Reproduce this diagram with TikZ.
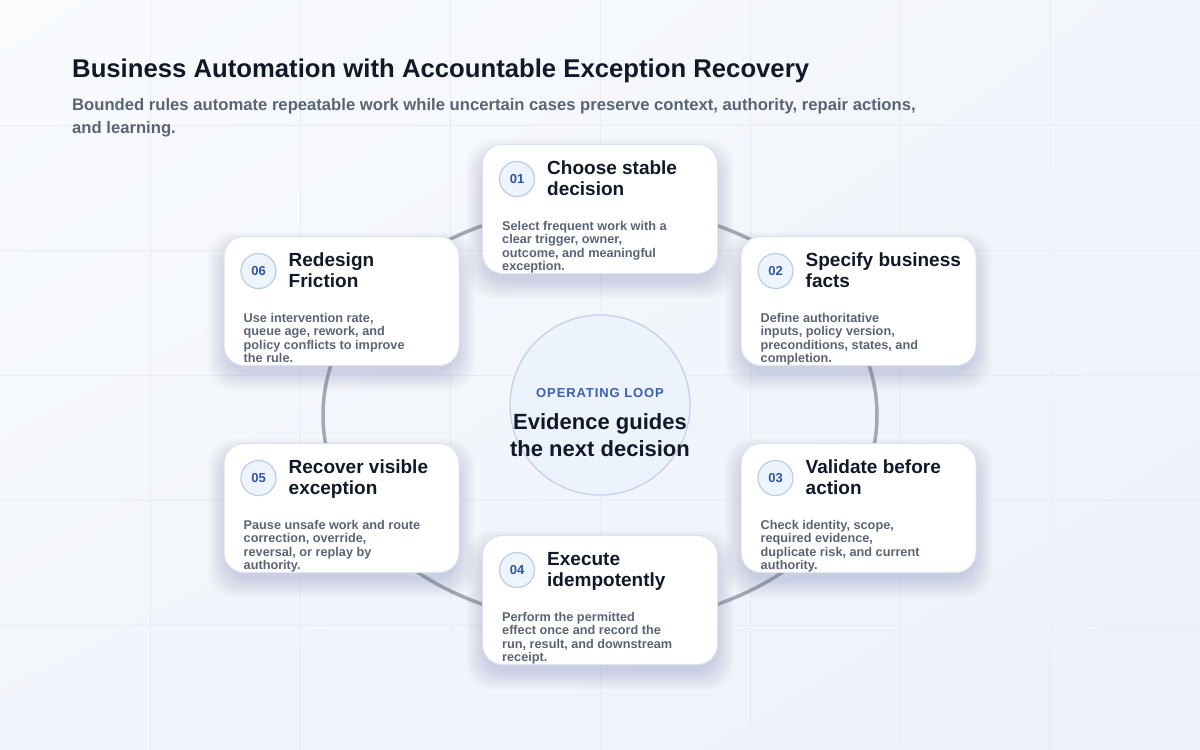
\documentclass[tikz,border=0pt]{standalone}
\usepackage{fontspec}
\setmainfont{Liberation Sans}
\usetikzlibrary{calc,shadings}
\definecolor{bgA}{HTML}{F9FBFD}
\definecolor{bgB}{HTML}{F2F5FB}
\definecolor{bgC}{HTML}{ECF1FA}
\definecolor{gridc}{HTML}{E8ECF4}
\definecolor{ringc}{HTML}{A2A8B5}
\definecolor{cardedge}{HTML}{DCE3EE}
\definecolor{titlec}{HTML}{111827}
\definecolor{bodyc}{HTML}{5B6475}
\definecolor{badgefill}{HTML}{EEF4FE}
\definecolor{badgeedge}{HTML}{BACCEB}
\definecolor{badgetext}{HTML}{2F55A3}
\definecolor{centerfill}{HTML}{EDF3FD}
\definecolor{centeredge}{HTML}{C2D2EE}
\definecolor{loopblue}{HTML}{3D5FAD}
\definecolor{shadowc}{HTML}{3A4C72}
\tikzset{
  card/.style={draw=cardedge, line width=1pt, fill=white, rounded corners=20pt,
    minimum width=235pt, minimum height=129pt, inner sep=0pt},
  shadowlayer/.style={fill=shadowc, opacity=0.009, rounded corners=26pt},
  badge/.style={circle, draw=badgeedge, line width=1.2pt, fill=badgefill, minimum size=35pt, inner sep=0pt,
    text=badgetext, font=\fontsize{13pt}{13pt}\selectfont\bfseries},
  ctitle/.style={anchor=base west, inner sep=0pt, text=titlec, font=\fontsize{19pt}{21pt}\selectfont\bfseries},
  cbody/.style={anchor=base west, inner sep=0pt, text=bodyc, font=\fontsize{12.7pt}{13.4pt}\selectfont\bfseries},
  gridline/.style={draw=gridc, line width=0.8pt},
  ringline/.style={draw=ringc, line width=3.5pt},
  hub/.style={circle, draw=centeredge, line width=1.3pt, fill=centerfill, minimum size=180pt, inner sep=0pt},
}
\newcommand\mkcard[6]{%
  \coordinate (#1c) at (#2);
  \foreach \k in {0,1,...,18}
    \fill[shadowlayer] ([shift={({-116-\k},{-62-\k+10})}]#1c) rectangle ([shift={({116+\k},{62+\k+10})}]#1c);
  \node[card] (#1) at (#1c) {};
  \node[badge] (#1n) at ([shift={(35,35)}]#1.north west) {#3};
  \node[ctitle] (#1ta) at ([shift={(65,30.5)}]#1.north west) {#4};
  \node[ctitle] (#1tb) at ([shift={(65,51.5)}]#1.north west) {#5};
  \begin{scope}
    \clip[rounded corners=20pt] ([shift={(0.5,0.5)}]#1.north west) rectangle ([shift={(-0.5,-0.5)}]#1.south east);
    \foreach \ln [count=\i] in {#6}
      \node[cbody] (#1b\i) at ([shift={(20,{86+13.6*(\i-1)})}]#1.north west) {\ln};
  \end{scope}}
\begin{document}
\begin{tikzpicture}[x=1pt,y=-1pt]
\useasboundingbox (0,0) rectangle (1200,750);
\shade[upper left=bgA, upper right=bgB, lower left=bgB, lower right=bgC] (0,0) rectangle (1200,750);
\foreach \gx in {150,300,...,1050} \draw[gridline] (\gx,0) -- (\gx,750);
\foreach \gy in {125,250,...,625} \draw[gridline] (0,\gy) -- (1200,\gy);

\node[anchor=base west, inner sep=0pt, text=titlec, font=\fontsize{25.7pt}{30pt}\selectfont\bfseries] (title) at (72,77)
  {Business Automation with Accountable Exception Recovery};
\node[anchor=base west, inner sep=0pt, text=bodyc, font=\fontsize{16.65pt}{23pt}\selectfont\bfseries] (sub1) at (72,110)
  {Bounded rules automate repeatable work while uncertain cases preserve context, authority, repair actions,};
\node[anchor=base west, inner sep=0pt, text=bodyc, font=\fontsize{16.65pt}{23pt}\selectfont\bfseries] (sub2) at (72,133)
  {and learning.};

\draw[ringline] (600,415) ellipse [x radius=277pt, y radius=209pt];

\node[hub] (hub) at (600,405) {};
\node[anchor=base, inner sep=0pt, text=loopblue, font=\fontsize{13pt}{13pt}\selectfont\bfseries\addfontfeature{LetterSpace=7}] (loop) at (600,397) {OPERATING LOOP};
\node[anchor=base, inner sep=0pt, text=titlec, font=\fontsize{22pt}{27pt}\selectfont\bfseries] (ev1) at (600,429) {Evidence guides};
\node[anchor=base, inner sep=0pt, text=titlec, font=\fontsize{22pt}{27pt}\selectfont\bfseries] (ev2) at (600,456) {the next decision};

\mkcard{c1}{600,209}{01}{Choose stable}{decision}
  {{Select frequent work with a},{clear trigger, owner,},{outcome, and meaningful},{exception.}}
\mkcard{c2}{858.5,301}{02}{Specify business}{facts}
  {{Define authoritative},{inputs, policy version,},{preconditions, states, and},{completion.}}
\mkcard{c3}{858.5,508}{03}{Validate before}{action}
  {{Check identity, scope,},{required evidence,},{duplicate risk, and current},{authority.}}
\mkcard{c4}{600,600}{04}{Execute}{idempotently}
  {{Perform the permitted},{effect once and record the},{run, result, and downstream},{receipt.}}
\mkcard{c5}{341.5,508}{05}{Recover visible}{exception}
  {{Pause unsafe work and route},{correction, override,},{reversal, or replay by},{authority.}}
\mkcard{c6}{341.5,301}{06}{Redesign}{Friction}
  {{Use intervention rate,},{queue age, rework, and},{policy conflicts to improve},{the rule.}}
\end{tikzpicture}
\end{document}
